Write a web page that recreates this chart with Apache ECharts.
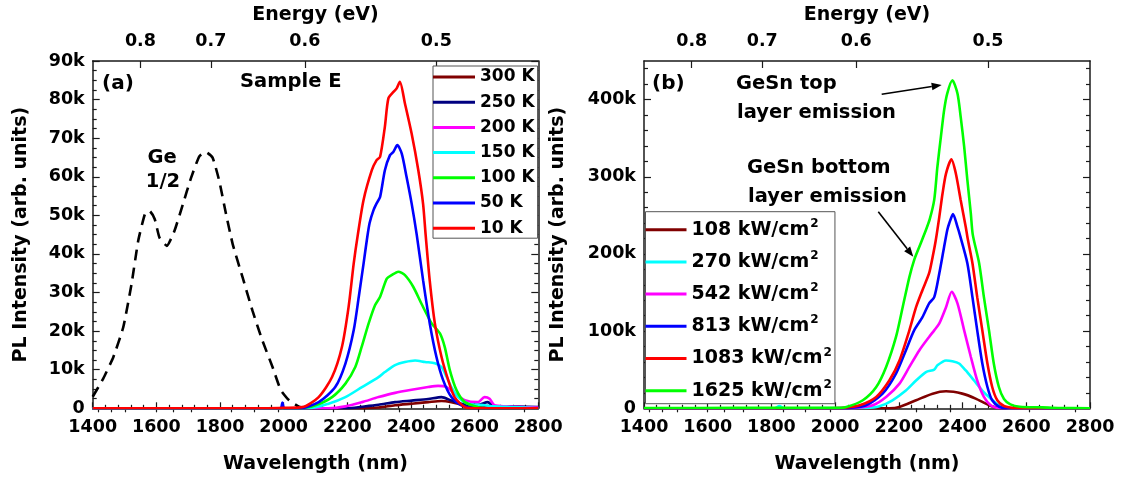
<!DOCTYPE html>
<html><head><meta charset="utf-8">
<script src="https://cdn.jsdelivr.net/npm/echarts@6/dist/echarts.min.js"></script>
<style>html,body{margin:0;padding:0;background:#fff}#c{width:1122px;height:480px}</style>
</head><body><div id="c"></div>
<script>
// ---------- DATA (wavelength nm, PL intensity in k arb. units) ----------
const tempNames = ['300 K', '250 K', '200 K', '150 K', '100 K', '50 K', '10 K'];
const tempColors = ['#800000', '#000080', '#ff00ff', '#00ffff', '#00ff00', '#0000ff', '#ff0000'];
const geHalf = [[1400,3],[1433,7.7],[1465,13.3],[1496,21],[1522,32.2],[1543,43.4],[1564,50.3],[1579,51.1],[1595,49],[1610,44.2],[1633,42.1],[1657,46],[1683,52.8],[1709,59.7],[1735,65.3],[1756,66.4],[1777,64.9],[1798,58.8],[1819,50.3],[1840,42.5],[1871,33.9],[1902,25.3],[1933,17.6],[1965,10.7],[1991,4.7],[2017,2.1],[2048,0.4],[2069,0]];
const t300 = [[1400,0],[2250,0],[2298,0.2],[2350,0.8],[2402,1.2],[2454,1.6],[2496,1.9],[2527,1.6],[2569,0.8],[2631,0.5],[2700,0.3],[2800,0.1]];
const t250 = [[1400,0],[2200,0],[2246,0.4],[2298,0.9],[2350,1.6],[2402,2],[2454,2.4],[2496,2.9],[2527,2],[2558,1.2],[2610,0.9],[2641,1.6],[2660,0.5],[2700,0.5],[2800,0.3]];
const t200 = [[1400,0],[2141,0],[2194,0.5],[2246,1.6],[2298,2.9],[2350,4],[2402,4.8],[2454,5.5],[2485,5.8],[2512,5.5],[2537,3.8],[2569,2.1],[2610,1.6],[2631,2.9],[2647,2.5],[2662,0.8],[2700,0.5],[2750,0.3],[2800,0.2]];
const t150 = [[1400,0],[2079,0],[2141,1.2],[2194,2.9],[2246,5.5],[2298,8.1],[2318,9.4],[2350,11.2],[2381,12],[2413,12.4],[2444,12],[2475,11.7],[2496,10.7],[2512,8.1],[2527,5.5],[2548,2.9],[2579,1.2],[2631,0.8],[2660,0.5],[2720,0.3],[2800,0]];
const t100 = [[1400,0],[2048,0],[2100,0.8],[2152,2.9],[2194,6.4],[2225,10.7],[2245,15.9],[2267,22],[2287,26.7],[2303,28.9],[2324,33.6],[2339,34.5],[2360,35.4],[2381,34.5],[2407,31.5],[2433,27.1],[2465,22],[2491,19.4],[2506,15.9],[2522,9.9],[2543,4.7],[2569,1.6],[2610,0.3],[2630,0],[2800,0]];
const t50 = [[1400,0],[1990,0],[1996,1.5],[2002,0],[2048,0],[2110,1.6],[2162,5.5],[2194,11.6],[2220,20.2],[2236,28.9],[2251,37.5],[2262,44],[2270,48],[2282,51.3],[2292,53.1],[2303,54.8],[2318,61.7],[2334,65.6],[2345,66.5],[2357,68.2],[2371,66],[2386,60],[2402,53.1],[2418,45],[2438,33.2],[2459,22],[2480,13.3],[2501,7.3],[2527,2.9],[2558,0.8],[2600,0],[2800,0]];
const t10 = [[1400,0],[1950,0],[2000,0.1],[2058,0.3],[2110,2.9],[2152,8.1],[2183,15.9],[2204,26.3],[2220,37.5],[2233,45],[2251,54],[2277,61.7],[2292,64.3],[2303,65.2],[2318,73],[2329,80.3],[2345,82],[2355,82.9],[2365,84.6],[2381,79],[2402,71.2],[2423,61.7],[2438,53],[2446,45],[2459,33],[2475,22],[2496,13.3],[2517,7.3],[2537,2.9],[2569,0.3],[2600,0],[2800,0]];
const tempData = [t300, t250, t200, t150, t100, t50, t10];

const powerNames = ['108 kW/cm2', '270 kW/cm2', '542 kW/cm2', '813 kW/cm2', '1083 kW/cm2', '1625 kW/cm2'];
const powerColors = ['#800000', '#00ffff', '#ff00ff', '#0000ff', '#ff0000', '#00ff00'];
const p108 = [[1400,0],[2100,0],[2170,0],[2202,1.7],[2254,10.4],[2306,19],[2348,22],[2399,19],[2441,12.6],[2483,3.9],[2514,0.3],[2540,0],[2800,0]];
const p270 = [[1400,0],[1810,0],[1825,3],[1840,0],[2097,0.5],[2139,2.6],[2180,10.4],[2222,23],[2254,36],[2285,47],[2311,50],[2321,55.7],[2348,62],[2368,61],[2389,58],[2410,49],[2436,36],[2462,23],[2488,12.6],[2514,3.9],[2540,0.5],[2570,0],[2800,0]];
const p542 = [[1400,0],[2030,0],[2066,0.5],[2118,3.9],[2160,14.7],[2202,32],[2233,53.6],[2264,75],[2295,92.5],[2311,101],[2327,110],[2348,131],[2366,151],[2384,136],[2405,101],[2426,66.5],[2446,36],[2467,14.7],[2488,3.9],[2509,0.5],[2540,0],[2800,0]];
const p813 = [[1400,0],[2000,0],[2045,0.5],[2097,3.9],[2149,19],[2191,45],[2222,75],[2248,101],[2274,118],[2295,136],[2311,144],[2327,175],[2342,209],[2352,231],[2358,239.5],[2370,251.6],[2384,235],[2392,224],[2415,188],[2431,144],[2446,101],[2462,58],[2478,27.6],[2493,10.4],[2515,2],[2540,0],[2800,0]];
const p1083 = [[1400,0],[1980,0],[2025,0.5],[2077,3.9],[2129,14.7],[2170,36],[2202,62],[2233,101],[2254,131],[2274,153],[2295,175],[2306,196],[2316,218],[2327,248],[2337,278],[2348,304],[2365,322.5],[2379,304],[2394,270],[2410,235],[2416,220],[2431,188],[2446,144],[2462,101],[2478,58],[2493,27.6],[2509,10.4],[2530,3],[2560,0.5],[2590,0],[2800,0]];
const p1625 = [[1400,0.3],[1700,0.5],[2000,0.5],[2035,1.7],[2087,10.4],[2129,27.6],[2160,53.6],[2191,92.5],[2212,131],[2233,170],[2248,192],[2264,209],[2285,231],[2297,245],[2311,270],[2321,313],[2332,352],[2342,386],[2352,408],[2368,425],[2384,408],[2394,378],[2405,339],[2415,296],[2426,252],[2432,225],[2452,188],[2467,144],[2483,101],[2498,58],[2514,27.6],[2530,12],[2550,5],[2580,2],[2650,1.2],[2700,0.4],[2800,0]];
const powerData = [p108, p270, p542, p813, p1083, p1625];

const energyMajor = [0.8, 0.7, 0.6, 0.5];
const energyMinor = [0.875, 0.85, 0.825, 0.775, 0.75, 0.725, 0.675, 0.65, 0.625, 0.575, 0.55, 0.525, 0.475, 0.45];
const rightYTicks = [0, 100, 200, 300, 400];
const rightYMinor = [20, 40, 60, 80, 120, 140, 160, 180, 220, 240, 260, 280, 320, 340, 360, 380, 420, 440];

// ---------- STYLE ----------
const FF = '"DejaVu Sans", "Liberation Sans", sans-serif';
const AX = '#1a1a1a';
const HC = 1239.84;
const toWl = e => HC / e;
const labelStyle = { color: '#000', fontSize: 17.5, fontWeight: 'bold', fontFamily: FF };
const titleStyle = { color: '#000', fontSize: 19, fontWeight: 'bold', fontFamily: FF };
const lineAx = { show: true, onZero: false, lineStyle: { color: AX, width: 1.5 } };
const tickSt = { color: AX, width: 1.2 };

function xBottom(g) {
  return { type: 'value', gridIndex: g, position: 'bottom', min: 1400, max: 2800, interval: 200,
    name: 'Wavelength (nm)', nameLocation: 'middle', nameGap: 46, nameTextStyle: titleStyle,
    axisLine: lineAx, axisTick: { inside: true, length: 6, lineStyle: tickSt },
    minorTick: { show: true, splitNumber: 5, length: 3.5, lineStyle: tickSt },
    axisLabel: Object.assign({ margin: 10, formatter: v => String(v) }, labelStyle), splitLine: { show: false } };
}
function xTopMajor(g) {
  const pos = energyMajor.map(toWl);
  return { type: 'value', gridIndex: g, position: 'top', min: 1400, max: 2800,
    name: 'Energy (eV)', nameLocation: 'middle', nameGap: 36, nameTextStyle: titleStyle,
    axisLine: lineAx, axisTick: { inside: true, length: 7, lineStyle: tickSt, customValues: pos },
    axisLabel: Object.assign({ margin: 11, customValues: pos, formatter: v => (HC / v).toFixed(1) }, labelStyle),
    splitLine: { show: false } };
}
function xTopMinor(g) {
  return { type: 'value', gridIndex: g, position: 'top', min: 1400, max: 2800,
    axisLine: { show: false }, axisLabel: { show: false },
    axisTick: { inside: true, length: 4, lineStyle: tickSt, customValues: energyMinor.map(toWl) },
    splitLine: { show: false } };
}
const kFmt = v => v === 0 ? '0' : v + 'k';

const option = {
  animation: false,
  backgroundColor: '#fff',
  grid: [
    { left: 92.7, top: 61, width: 445.6, height: 347.3 },
    { left: 644, top: 61, width: 446, height: 347.3 }
  ],
  xAxis: [xBottom(0), xTopMajor(0), xTopMinor(0), xBottom(1), xTopMajor(1), xTopMinor(1)],
  yAxis: [
    { type: 'value', gridIndex: 0, position: 'left', min: 0, max: 90, interval: 10,
      name: 'PL Intensity (arb. units)', nameLocation: 'middle', nameGap: 62, nameTextStyle: titleStyle,
      axisLine: lineAx, axisTick: { inside: true, length: 7, lineStyle: tickSt },
      minorTick: { show: true, splitNumber: 4, length: 4, lineStyle: tickSt },
      axisLabel: Object.assign({ margin: 8, formatter: kFmt }, labelStyle), splitLine: { show: false } },
    { type: 'value', gridIndex: 0, position: 'right', min: 0, max: 90, interval: 10,
      axisLine: lineAx, axisTick: { inside: true, length: 7, lineStyle: tickSt },
      minorTick: { show: true, splitNumber: 4, length: 4, lineStyle: tickSt },
      axisLabel: { show: false }, splitLine: { show: false } },
    { type: 'value', gridIndex: 1, position: 'left', min: 0, max: 450, interval: 100,
      name: 'PL Intensity (arb. units)', nameLocation: 'middle', nameGap: 76, nameTextStyle: titleStyle,
      axisLine: lineAx, axisTick: { inside: true, length: 7, lineStyle: tickSt, customValues: rightYTicks },
      axisLabel: Object.assign({ margin: 8, formatter: kFmt, customValues: rightYTicks }, labelStyle), splitLine: { show: false } },
    { type: 'value', gridIndex: 1, position: 'left', min: 0, max: 450,
      axisLine: { show: false }, axisLabel: { show: false },
      axisTick: { inside: true, length: 4, lineStyle: tickSt, customValues: rightYMinor }, splitLine: { show: false } },
    { type: 'value', gridIndex: 1, position: 'right', min: 0, max: 450, interval: 100,
      axisLine: lineAx, axisTick: { inside: true, length: 7, lineStyle: tickSt, customValues: rightYTicks },
      axisLabel: { show: false }, splitLine: { show: false } },
    { type: 'value', gridIndex: 1, position: 'right', min: 0, max: 450,
      axisLine: { show: false }, axisLabel: { show: false },
      axisTick: { inside: true, length: 4, lineStyle: tickSt, customValues: rightYMinor }, splitLine: { show: false } }
  ],
  legend: [
    { data: tempNames, orient: 'vertical', left: 433, top: 66, padding: [2, 3, 1, 0], itemGap: 7.2,
      icon: 'rect', itemWidth: 42, itemHeight: 3, borderColor: '#555', borderWidth: 1, backgroundColor: '#fff',
      textStyle: { color: '#000', fontSize: 17, fontWeight: 'bold', fontFamily: FF, lineHeight: 18 } },
    { data: powerNames, orient: 'vertical', left: 645.5, top: 211.7, padding: [5, 3, 0, 0], itemGap: 6.2,
      icon: 'rect', itemWidth: 41, itemHeight: 3, borderColor: '#555', borderWidth: 1, backgroundColor: '#fff',
      formatter: n => '{t|' + n.slice(0, -1) + '}{s|2}',
      textStyle: { color: '#000', fontSize: 19, fontWeight: 'bold', fontFamily: FF, lineHeight: 26,
        rich: { t: { fontSize: 19, fontWeight: 'bold', fontFamily: FF, lineHeight: 26, color: '#000' },
                s: { fontSize: 12, fontWeight: 'bold', fontFamily: FF, lineHeight: 14, verticalAlign: 'top', color: '#000', padding: [1, 0, 0, 1] } } } }
  ],
  series: [
    { type: 'line', name: 'Ge 1/2', xAxisIndex: 0, yAxisIndex: 0, data: geHalf, symbol: 'none', smooth: 0.15,
      lineStyle: { color: '#000', width: 2.6, type: [11, 7] }, z: 2 }
  ].concat(tempNames.map((n, i) => ({
    type: 'line', name: n, xAxisIndex: 0, yAxisIndex: 0, data: tempData[i], symbol: 'none', smooth: 0.25,
    color: tempColors[i], lineStyle: { color: tempColors[i], width: 2.6 }, z: 3 + i
  }))).concat(powerNames.map((n, i) => ({
    type: 'line', name: n, xAxisIndex: 3, yAxisIndex: 2, data: powerData[i], symbol: 'none', smooth: 0.25,
    color: powerColors[i], lineStyle: { color: powerColors[i], width: 2.6 }, z: 3 + i
  })))
};

function txt(text, x, y, size, align) {
  return { type: 'text', z: 100, style: { text, x, y, fill: '#000', fontSize: size, fontWeight: 'bold', fontFamily: FF,
    align: align || 'left', verticalAlign: 'middle' } };
}
function arrow(x1, y1, x2, y2) {
  const dx = x2 - x1, dy = y2 - y1, L = Math.hypot(dx, dy), ux = dx / L, uy = dy / L;
  const bx = x2 - 10 * ux, by = y2 - 10 * uy, nx = -uy, ny = ux;
  return [
    { type: 'line', z: 100, shape: { x1, y1, x2: bx, y2: by }, style: { stroke: '#000', lineWidth: 1.6 } },
    { type: 'polygon', z: 100, shape: { points: [[x2, y2], [bx + 3.8 * nx, by + 3.8 * ny], [bx - 3.8 * nx, by - 3.8 * ny]] }, style: { fill: '#000' } }
  ];
}
option.graphic = [
  txt('(a)', 102, 84, 20), txt('Sample E', 240, 82, 19.5),
  txt('Ge', 162, 157.5, 19.5, 'center'), txt('1/2', 163, 181.5, 19.5, 'center'),
  txt('(b)', 652, 84, 20),
  txt('GeSn top', 736, 84, 19.5), txt('layer emission', 737, 113, 19.5),
  txt('GeSn bottom', 747, 168, 19.5), txt('layer emission', 748, 197, 19.5)
].concat(arrow(881.7, 94.3, 941.7, 85)).concat(arrow(878.3, 211.7, 913.3, 256.7));

const chart = echarts.init(document.getElementById('c'), null, { renderer: 'canvas' });
chart.setOption(option);
</script></body></html>
